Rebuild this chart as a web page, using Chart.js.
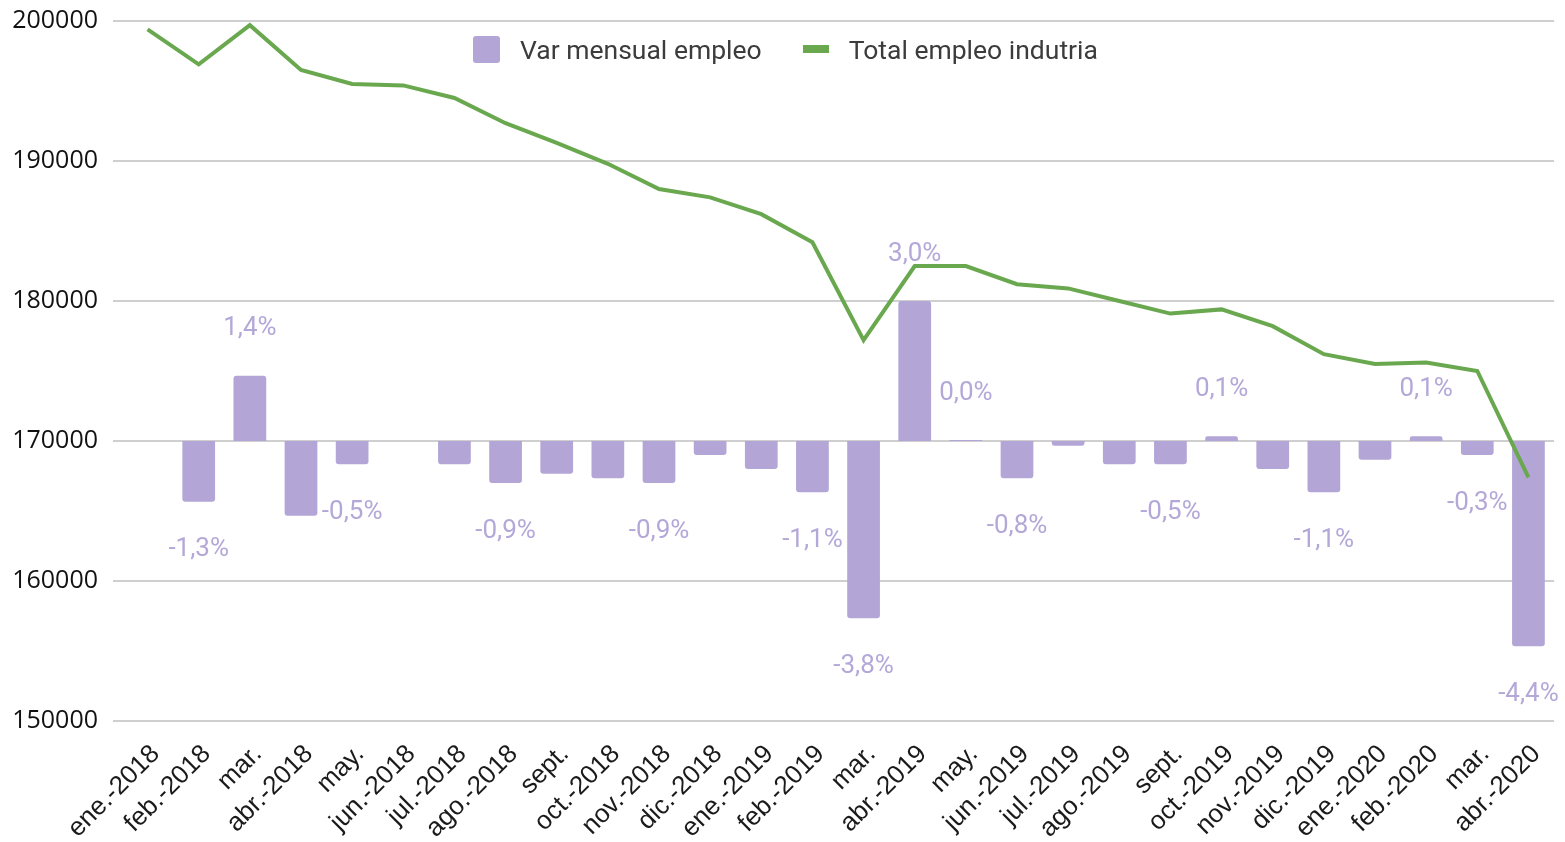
<!DOCTYPE html>
<html>
<head>
<meta charset="utf-8">
<script src="https://cdn.jsdelivr.net/npm/chart.js@4"></script>
<style>
    body { margin: 0; background: #fff; }
    #wrap { position: relative; width: 1565px; height: 842px; overflow: hidden; }
    #legend {
        position: absolute; top: 34px; left: 473px; height: 30px;
        display: flex; align-items: center;
        font-family: Roboto, sans-serif; font-size: 26.5px; color: #3c3c3c;
    }
    .sw-bar { width: 27px; height: 27px; background: #b3a6d7; border-radius: 3px; margin-right: 20px; }
    .sw-line { width: 26px; height: 8px; background: #6aa84f; margin-left: 41px; margin-right: 20px; }
</style>
</head>
<body>
<div id="wrap">
    <canvas id="chart"></canvas>
    <div id="legend">
        <div class="sw-bar"></div><span>Var mensual empleo</span>
        <div class="sw-line"></div><span>Total empleo indutria</span>
    </div>
</div>
<script>
    // Categories
    const months = ['ene.-2018', 'feb.-2018', 'mar.', 'abr.-2018', 'may.', 'jun.-2018', 'jul.-2018',
        'ago.-2018', 'sept.', 'oct.-2018', 'nov.-2018', 'dic.-2018', 'ene.-2019', 'feb.-2019', 'mar.',
        'abr.-2019', 'may.', 'jun.-2019', 'jul.-2019', 'ago.-2019', 'sept.', 'oct.-2019', 'nov.-2019',
        'dic.-2019', 'ene.-2020', 'feb.-2020', 'mar.', 'abr.-2020'];

    // Total empleo industria (left axis)
    const totalEmpleo = [199400, 196900, 199700, 196500, 195500, 195400, 194500, 192700, 191300, 189800,
        188000, 187400, 186200, 184200, 177200, 182500, 182500, 181200, 180900, 180000, 179100, 179400,
        178200, 176200, 175500, 175600, 175000, 167400];

    // Variacion mensual en % (hidden right axis)
    const varMensual = [null, -1.3, 1.4, -1.6, -0.5, 0, -0.5, -0.9, -0.7, -0.8, -0.9, -0.3, -0.6,
        -1.1, -3.8, 3.0, 0.02, -0.8, -0.1, -0.5, -0.5, 0.1, -0.6, -1.1, -0.4, 0.1, -0.3, -4.4];

    // Data labels shown on the bars
    const varLabels = [null, '-1,3%', '1,4%', null, '-0,5%', null, null, '-0,9%', null, null, '-0,9%',
        null, null, '-1,1%', '-3,8%', '3,0%', '0,0%', '-0,8%', null, null, '-0,5%', '0,1%', null,
        '-1,1%', null, '0,1%', '-0,3%', '-4,4%'];

    const yTicks = [150000, 160000, 170000, 180000, 190000, 200000];

    const purple = '#b3a6d7';
    const green = '#6aa84f';

    // draws the % labels above/below each bar end
    const barLabels = {
        id: 'barLabels',
        afterDatasetsDraw(chart) {
            const meta = chart.getDatasetMeta(0);
            const ctx = chart.ctx;
            ctx.save();
            ctx.font = '26px Roboto';
            ctx.textAlign = 'center';
            ctx.textBaseline = 'middle';
            ctx.lineJoin = 'round';
            meta.data.forEach((bar, i) => {
                const txt = varLabels[i];
                if (!txt) return;
                const v = varMensual[i];
                const y = v >= 0 ? bar.y - 47 : bar.y + 48;
                ctx.strokeStyle = '#fff';
                ctx.lineWidth = 5;
                ctx.strokeText(txt, bar.x, y);
                ctx.fillStyle = '#b4a8d8';
                ctx.fillText(txt, bar.x, y);
            });
            ctx.restore();
        }
    };

    new Chart(document.getElementById('chart'), {
        type: 'bar',
        data: {
            labels: months,
            datasets: [{
                type: 'bar',
                label: 'Var mensual empleo',
                data: varMensual,
                yAxisID: 'y1',
                backgroundColor: purple,
                borderRadius: 3,
                borderSkipped: 'start',
                barPercentage: 0.8,
                categoryPercentage: 0.8,
                order: 1
            }, {
                type: 'line',
                label: 'Total empleo indutria',
                data: totalEmpleo,
                yAxisID: 'y',
                borderColor: green,
                borderWidth: 4,
                pointRadius: 0,
                tension: 0,
                order: 0
            }]
        },
        options: {
            responsive: true,
            maintainAspectRatio: false,
            animation: false,
            layout: {
                padding: { top: 21, right: 11, left: 0, bottom: 0 }
            },
            plugins: {
                legend: { display: false },
                tooltip: { enabled: false }
            },
            scales: {
                x: {
                    grid: { display: false },
                    border: { display: false },
                    ticks: {
                        autoSkip: false,
                        minRotation: 45,
                        maxRotation: 45,
                        padding: 10,
                        labelOffset: 8,
                        color: '#1a1a1a',
                        font: { family: 'Liberation Sans', size: 26 }
                    },
                    afterFit(scale) {
                        scale.height = 121;
                        scale.paddingLeft = 0;
                        scale.paddingRight = 0;
                    }
                },
                y: {
                    min: 150000,
                    max: 200000,
                    afterBuildTicks(scale) { scale.ticks = yTicks.map(v => ({ value: v })); },
                    grid: { color: '#cfcfcf', lineWidth: 2, tickLength: 9, tickColor: '#cfcfcf' },
                    border: { display: false },
                    ticks: {
                        padding: 15,
                        color: '#111',
                        font: { family: 'Open Sans', size: 25 },
                        callback: v => String(v)
                    },
                    afterFit(scale) {
                        scale.width = 122;
                        scale.paddingTop = 0;
                        scale.paddingBottom = 0;
                    }
                },
                y1: {
                    display: false,
                    min: -6,
                    max: 9,
                    grid: { display: false }
                }
            }
        },
        plugins: [barLabels]
    });
</script>
</body>
</html>
